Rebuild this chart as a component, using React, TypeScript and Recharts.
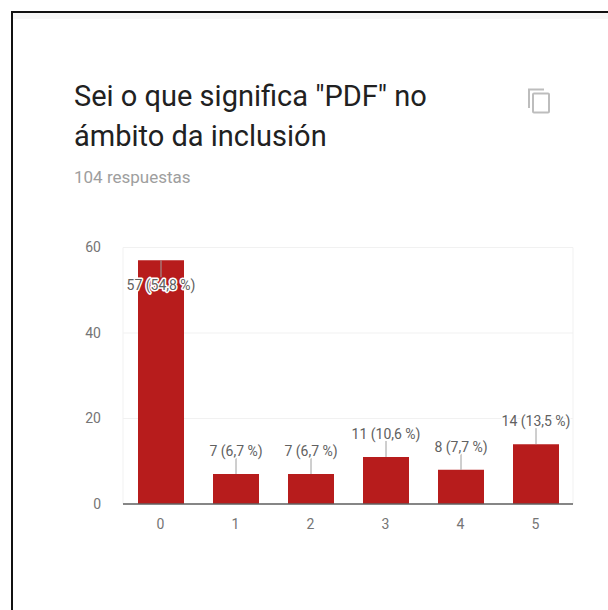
import { Bar, BarChart, CartesianGrid, LabelList, XAxis, YAxis } from "recharts";

const categories = ["0", "1", "2", "3", "4", "5"];
const counts = [57, 7, 7, 11, 8, 14];
const percents = ["54,8", "6,7", "6,7", "10,6", "7,7", "13,5"];
const yTicks = [0, 20, 40, 60];

const chartData = categories.map((name, i) => ({
  name,
  value: counts[i],
  label: `${counts[i]} (${percents[i]} %)`,
}));

const BAR_COLOR = "#b71c1c";
const FONT = "Roboto, sans-serif";

// leader line + text; tall bars get the label drawn inside, like in Forms
const BarLabel = (props: any) => {
  const { x, y, width, index } = props;
  const cx = x + width / 2;
  const inside = counts[index] > 40;
  const lineEnd = inside ? y + 17 : y - 16;
  const textY = inside ? y + 25 : y - 23;
  return (
    <g>
      <line x1={cx} x2={cx} y1={y} y2={lineEnd} stroke="#9e9e9e" strokeWidth={1} />
      <text
        x={cx}
        y={textY}
        textAnchor="middle"
        dominantBaseline="central"
        fontFamily={FONT}
        fontSize={14}
        fill="#616161"
        stroke="#fff"
        strokeWidth={3}
        strokeLinejoin="round"
        style={{ paintOrder: "stroke" }}
      >
        {chartData[index].label}
      </text>
    </g>
  );
};

export default function App() {
  return (
    <div style={{ position: "absolute", left: 0, top: 0, width: 608, height: 610, overflow: "hidden", background: "#fff", fontFamily: FONT }}>
      <div style={{ position: "absolute", left: 11, top: 11, width: 597, height: 599, boxSizing: "border-box", borderLeft: "2px solid #111", borderTop: "2px solid #111" }} />
      <div style={{ position: "absolute", left: 13, top: 13, width: 595, height: 6, background: "#f6f6f6" }} />

      <BarChart
        width={608}
        height={610}
        data={chartData}
        margin={{ top: 247.5, right: 35, bottom: 76, left: 63 }}
        style={{ position: "absolute", left: 0, top: 0 }}
      >
        <CartesianGrid
          stroke="#f1f1f1"
          strokeWidth={1}
          verticalCoordinatesGenerator={({ offset }: any) => [offset.left, offset.left + offset.width]}
        />
        <XAxis
          dataKey="name"
          height={30}
          tickLine={false}
          axisLine={{ stroke: "#616161", strokeWidth: 1.5 }}
          tick={{ fill: "#757575", fontSize: 14, fontFamily: FONT }}
          tickMargin={9}
        />
        <YAxis
          width={60}
          domain={[0, 60]}
          ticks={yTicks}
          tickLine={false}
          axisLine={false}
          tick={{ fill: "#757575", fontSize: 14, fontFamily: FONT }}
          tickMargin={16}
        />
        <Bar dataKey="value" fill={BAR_COLOR} barSize={46} isAnimationActive={false}>
          <LabelList dataKey="label" content={BarLabel} />
        </Bar>
      </BarChart>

      <div style={{ position: "absolute", left: 74, top: 76, width: 420, fontSize: 29, lineHeight: "40px", color: "#212121" }}>
        Sei o que significa "PDF" no
        <br />
        ámbito da inclusión
      </div>
      <div style={{ position: "absolute", left: 74, top: 166, fontSize: 17, lineHeight: "22px", color: "#9e9e9e" }}>
        104 respuestas
      </div>
      <svg width={24} height={27} viewBox="0 0 24 27" style={{ position: "absolute", left: 527, top: 87 }}>
        <path d="M2 21V2.5h15" fill="none" stroke="#bdbdbd" strokeWidth={2} />
        <rect x={6} y={6.5} width={16} height={19} rx={1} fill="none" stroke="#bdbdbd" strokeWidth={2} />
      </svg>
    </div>
  );
}
